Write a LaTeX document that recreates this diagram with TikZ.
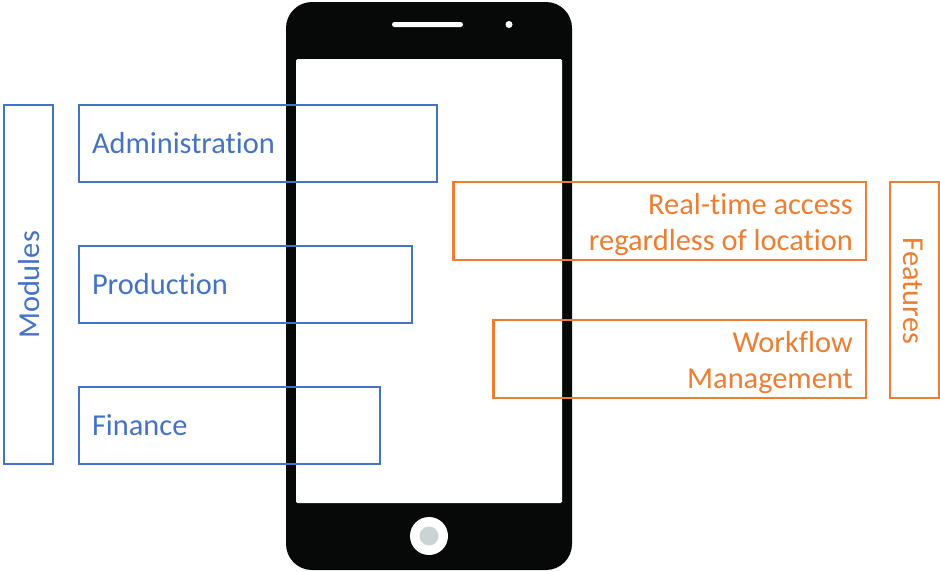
\documentclass[tikz,border=0pt]{standalone}
\usepackage{fontspec}
\setmainfont{Carlito}[Ligatures=NoCommon]
\usepackage{xcolor}
\usetikzlibrary{positioning}
\definecolor{moduleblue}{HTML}{4472C4}
\definecolor{featureorange}{HTML}{ED7D31}
\definecolor{phoneblack}{HTML}{070808}
\definecolor{buttongrey}{HTML}{C9D5D5}
\tikzset{
    modulebox/.style={draw=moduleblue, line width=2.4pt, text=moduleblue, font=\fontsize{30.4}{36}\selectfont, inner sep=0pt, outer sep=0pt, minimum height=77pt, anchor=north west, align=flush left},
    featurebox/.style={draw=featureorange, line width=2.4pt, text=featureorange, font=\fontsize{30.4}{36.5}\selectfont, inner sep=0pt, outer sep=0pt, minimum height=78pt, anchor=north east, align=flush right},
    sidelabel/.style={line width=2.4pt, inner sep=0pt, outer sep=0pt, anchor=north west},
    sidetext/.style={font=\fontsize{30.4}{36}\selectfont, inner sep=0pt},
}
\newcommand{\toppad}{\rule{0pt}{28pt}}
\begin{document}
\begin{tikzpicture}[x=1pt, y=-1pt]
    \useasboundingbox (0,0) rectangle (940,571);

    % Phone body
    \fill[phoneblack, rounded corners=26pt] (286,2) rectangle (572,570);
    \fill[white, rounded corners=1.5pt] (296,59) rectangle (562,503);
    \fill[white, rounded corners=2.5pt] (392,22) rectangle (463,27);
    \fill[white] (509,24.5) circle (3.5);
    \fill[white] (429,536) circle (19);
    \fill[buttongrey] (429,536) circle (9.5);

    % Modules
    \node[sidelabel, draw=moduleblue, minimum width=49pt, minimum height=359pt] (modules) at (4,105) {};
    \node[sidetext, text=moduleblue, rotate=90] (moduleslabel) at (29,285) {Modules};
    \node[modulebox, minimum width=358pt, text width=332pt] (administration) at (79,105) {Administration};
    \node[modulebox, minimum width=333pt, text width=307pt] (production) at (79,246) {Production};
    \node[modulebox, minimum width=301pt, text width=275pt] (finance) at (79,387) {Finance};

    % Features
    \node[featurebox, minimum width=412.5pt, text width=386pt] (access) at (866,182) {\toppad Real-time access\\regardless of location};
    \node[featurebox, minimum width=372.5pt, text width=346pt] (workflow) at (866,320) {\toppad Workflow\\Management};
    \node[sidelabel, draw=featureorange, minimum width=49pt, minimum height=216pt] (features) at (890,182) {};
    \node[sidetext, text=featureorange, rotate=-90] (featureslabel) at (913,291) {Features};
\end{tikzpicture}
\end{document}
